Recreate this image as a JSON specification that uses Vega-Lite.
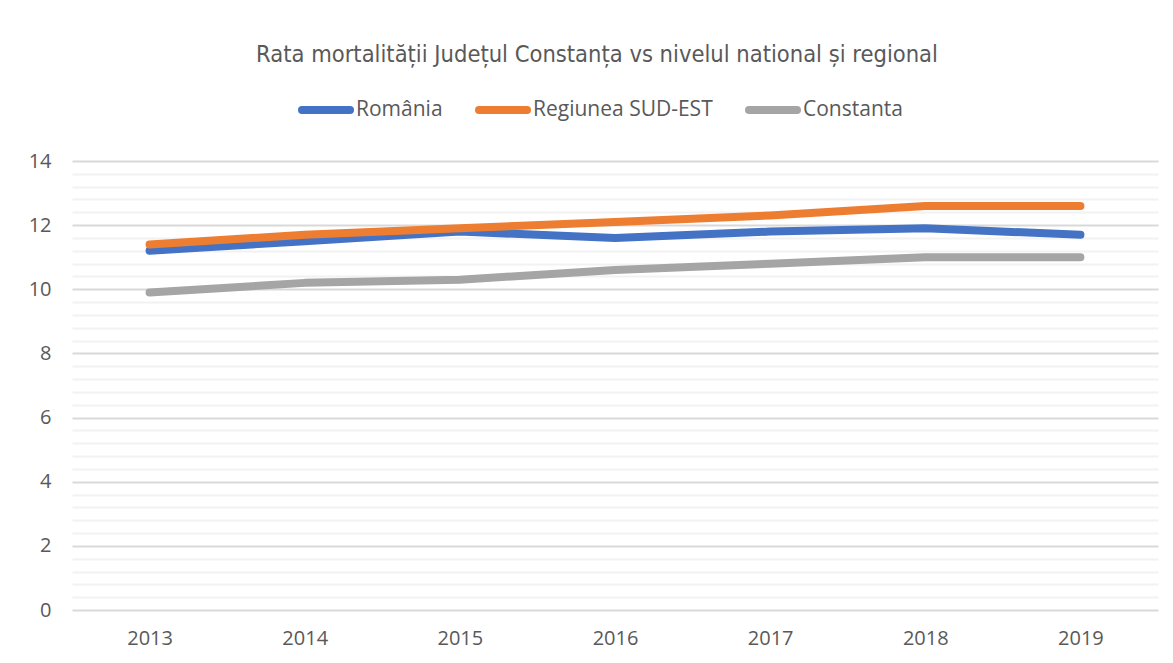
{
  "$schema": "https://vega.github.io/schema/vega-lite/v6.json",
  "autosize": "none",
  "width": 1086,
  "height": 449,
  "padding": {"left": 72, "top": 161, "right": 15, "bottom": 53},
  "background": "white",
  "config": {"view": {"stroke": null}},
  "title": {
    "text": "Rata mortalității Județul Constanța vs nivelul national și regional",
    "font": "Liberation Sans Narrow, DejaVu Sans Condensed, sans-serif",
    "fontSize": 23.5,
    "fontWeight": "normal",
    "color": "#595959",
    "anchor": "middle",
    "frame": "group",
    "baseline": "alphabetic",
    "offset": -3,
    "dx": -18
  },
  "data": {
    "values": [
      {"an": "2013", "serie": "România", "valoare": 11.2},
      {"an": "2014", "serie": "România", "valoare": 11.5},
      {"an": "2015", "serie": "România", "valoare": 11.8},
      {"an": "2016", "serie": "România", "valoare": 11.6},
      {"an": "2017", "serie": "România", "valoare": 11.8},
      {"an": "2018", "serie": "România", "valoare": 11.9},
      {"an": "2019", "serie": "România", "valoare": 11.7},
      {"an": "2013", "serie": "Regiunea SUD-EST", "valoare": 11.4},
      {"an": "2014", "serie": "Regiunea SUD-EST", "valoare": 11.7},
      {"an": "2015", "serie": "Regiunea SUD-EST", "valoare": 11.9},
      {"an": "2016", "serie": "Regiunea SUD-EST", "valoare": 12.1},
      {"an": "2017", "serie": "Regiunea SUD-EST", "valoare": 12.3},
      {"an": "2018", "serie": "Regiunea SUD-EST", "valoare": 12.6},
      {"an": "2019", "serie": "Regiunea SUD-EST", "valoare": 12.6},
      {"an": "2013", "serie": "Constanta", "valoare": 9.9},
      {"an": "2014", "serie": "Constanta", "valoare": 10.2},
      {"an": "2015", "serie": "Constanta", "valoare": 10.3},
      {"an": "2016", "serie": "Constanta", "valoare": 10.6},
      {"an": "2017", "serie": "Constanta", "valoare": 10.8},
      {"an": "2018", "serie": "Constanta", "valoare": 11.0},
      {"an": "2019", "serie": "Constanta", "valoare": 11.0}
    ]
  },
  "mark": {"type": "line", "strokeWidth": 8, "strokeCap": "round", "strokeJoin": "round"},
  "encoding": {
    "x": {
      "field": "an",
      "type": "ordinal",
      "scale": {"type": "point", "padding": 0.5},
      "axis": {
        "title": null,
        "domain": false,
        "ticks": false,
        "grid": false,
        "labelAngle": 0,
        "labelFont": "Open Sans",
        "labelFontSize": 20,
        "labelColor": "#595959",
        "labelPadding": 18
      }
    },
    "y": {
      "field": "valoare",
      "type": "quantitative",
      "scale": {"domain": [0, 14], "nice": false, "zero": true},
      "axis": {
        "title": null,
        "domain": false,
        "ticks": false,
        "values": [0, 0.4, 0.8, 1.2, 1.6, 2, 2.4, 2.8, 3.2, 3.6, 4, 4.4, 4.8, 5.2, 5.6, 6, 6.4, 6.8, 7.2, 7.6, 8, 8.4, 8.8, 9.2, 9.6, 10, 10.4, 10.8, 11.2, 11.6, 12, 12.4, 12.8, 13.2, 13.6, 14],
        "labelExpr": "abs(datum.value / 2 - round(datum.value / 2)) < 0.01 ? format(datum.value, 'd') : ''",
        "gridColor": {"condition": {"test": "abs(datum.value / 2 - round(datum.value / 2)) < 0.01", "value": "#d9d9d9"}, "value": "#f2f2f2"},
        "gridWidth": 2,
        "labelFont": "Open Sans",
        "labelFontSize": 20,
        "labelColor": "#595959",
        "labelPadding": 21
      }
    },
    "color": {
      "field": "serie",
      "type": "nominal",
      "scale": {"domain": ["România", "Regiunea SUD-EST", "Constanta"], "range": ["#4472c4", "#ed7d31", "#a5a5a5"]},
      "legend": {
        "title": null,
        "orient": "none",
        "direction": "horizontal",
        "legendX": 226,
        "legendY": -79,
        "symbolType": "stroke",
        "symbolStrokeWidth": 8,
        "symbolSize": 2304,
        "labelFont": "Open Sans",
        "labelFontSize": 21,
        "labelLimit": 400,
        "labelColor": "#595959",
        "labelOffset": 2,
        "columnPadding": 20,
        "encode": {"symbols": {"update": {"strokeCap": {"value": "round"}}}}
      }
    }
  }
}
